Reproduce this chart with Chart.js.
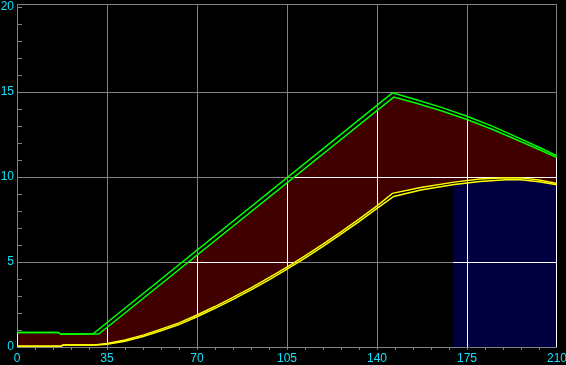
<!DOCTYPE html>
<html>
<head>
<meta charset="utf-8">
<script src="https://cdn.jsdelivr.net/npm/chart.js@4.4.1/dist/chart.umd.min.js"></script>
<style>
  html, body { margin: 0; padding: 0; background: #000; }
  canvas { display: block; }
</style>
</head>
<body>
<canvas id="scopeChart" width="566" height="365"></canvas>
<script>
// axis ticks
const xTicks = [0, 35, 70, 105, 140, 175, 210];
const yTicks = [0, 5, 10, 15, 20];

// green envelope (two traces)
const greenUpperX = [0, 16, 17, 29.5, 146, 155, 165, 175, 185, 195, 203, 210];
const greenUpperY = [0.86, 0.86, 0.76, 0.76, 14.95, 14.56, 14.1, 13.58, 12.98, 12.3, 11.75, 11.25];
const greenLowerX = [0, 16, 17, 31.8, 146.5, 155, 165, 175, 185, 195, 203, 210];
const greenLowerY = [0.86, 0.86, 0.76, 0.76, 14.7, 14.35, 13.9, 13.38, 12.8, 12.15, 11.62, 11.15];

// yellow envelope (two traces)
const yellowUpperX = [0, 17, 18, 30, 35, 42, 49, 56, 63, 70, 77, 84, 91, 98, 105, 112, 119, 126, 133, 140, 146, 157, 170, 180, 190, 196, 203, 210];
const yellowUpperY = [0.05, 0.05, 0.12, 0.12, 0.2, 0.41, 0.7, 1.05, 1.42, 1.88, 2.38, 2.92, 3.48, 4.08, 4.7, 5.36, 6.05, 6.78, 7.52, 8.3, 9.04, 9.38, 9.7, 9.88, 9.96, 9.95, 9.82, 9.62];
const yellowLowerX = [0, 17, 18, 31, 35, 42, 49, 56, 63, 70, 77, 84, 91, 98, 105, 112, 119, 126, 133, 140, 146.5, 157, 170, 180, 190, 196, 203, 210];
const yellowLowerY = [0.05, 0.05, 0.12, 0.12, 0.16, 0.34, 0.62, 0.96, 1.32, 1.78, 2.27, 2.8, 3.36, 3.95, 4.58, 5.23, 5.92, 6.64, 7.38, 8.15, 8.86, 9.24, 9.56, 9.74, 9.84, 9.84, 9.72, 9.55];

// navy block under the yellow trace
const navyX = [169.6, 180, 190, 196, 203, 210];
const navyY = [9.55, 9.74, 9.84, 9.84, 9.72, 9.55];

const toPoints = (xs, ys) => xs.map((x, i) => ({ x: x, y: ys[i] }));

const labelFont = { family: "'Liberation Sans Narrow', 'Liberation Sans', sans-serif", size: 12 };
const labelColor = '#10e4ff';

// grid: white where something is already painted, gray over the black background
const scopeGrid = {
    id: 'scopeGrid',
    beforeDatasetsDraw(chart) {
        const { ctx, chartArea: a, scales: { x, y } } = chart;
        const drawLines = function (color) {
            ctx.strokeStyle = color;
            ctx.lineWidth = 1;
            ctx.beginPath();
            xTicks.forEach(v => {
                const px = Math.min(Math.round(x.getPixelForValue(v)), Math.round(a.right) - 1) + 0.5;
                ctx.moveTo(px, a.top);
                ctx.lineTo(px, a.bottom);
            });
            [5, 10, 15].forEach(v => {
                const py = Math.round(y.getPixelForValue(v)) + 0.5;
                ctx.moveTo(a.left, py);
                ctx.lineTo(a.right, py);
            });
            ctx.stroke();
        };
        ctx.save();
        ctx.beginPath();
        ctx.rect(a.left, a.top, a.right - a.left, a.bottom - a.top);
        ctx.clip();
        ctx.globalCompositeOperation = 'source-atop';
        drawLines('#ffffff');
        ctx.globalCompositeOperation = 'destination-over';
        drawLines('#808080');
        ctx.restore();
    },
    afterDatasetsDraw(chart) {
        const { ctx, chartArea: a, scales: { x, y } } = chart;
        ctx.save();
        ctx.strokeStyle = '#808080';
        ctx.lineWidth = 1;
        ctx.beginPath();
        // top and bottom frame
        ctx.moveTo(a.left, Math.round(a.top) + 0.5);
        ctx.lineTo(a.right, Math.round(a.top) + 0.5);
        ctx.moveTo(a.left, Math.round(a.bottom) + 0.5);
        ctx.lineTo(a.right, Math.round(a.bottom) + 0.5);
        // small ticks on the y axis
        for (let v = 1; v <= 20; v++) {
            const py = Math.round(y.getPixelForValue(v)) + 0.5;
            ctx.moveTo(a.left, py);
            ctx.lineTo(a.left + 5, py);
        }
        // small ticks under the x axis
        for (let v = 7; v < 210; v += 7) {
            const px = Math.round(x.getPixelForValue(v)) + 0.5;
            ctx.moveTo(px, a.bottom);
            ctx.lineTo(px, a.bottom + 3);
        }
        ctx.stroke();
        ctx.restore();
    }
};

new Chart(document.getElementById('scopeChart'), {
    type: 'line',
    data: {
        datasets: [
            {
                data: toPoints(greenUpperX, greenUpperY),
                borderColor: '#00ff00',
                borderWidth: 1.5,
                fill: false
            },
            {
                data: toPoints(greenLowerX, greenLowerY),
                borderColor: '#00ff00',
                borderWidth: 1.5,
                backgroundColor: '#400000',
                fill: 2
            },
            {
                data: toPoints(yellowUpperX, yellowUpperY),
                borderColor: '#ffff00',
                borderWidth: 1.5,
                fill: false
            },
            {
                data: toPoints(yellowLowerX, yellowLowerY),
                borderColor: '#ffff00',
                borderWidth: 1.5,
                fill: false
            },
            {
                data: toPoints(navyX, navyY),
                borderColor: 'rgba(0,0,0,0)',
                borderWidth: 0,
                backgroundColor: '#000040',
                fill: 'origin'
            }
        ]
    },
    options: {
        responsive: false,
        animation: false,
        layout: { padding: { top: 4, right: 9, left: 0, bottom: 0 } },
        elements: { point: { radius: 0 }, line: { tension: 0 } },
        plugins: {
            legend: { display: false },
            tooltip: { enabled: false },
            filler: { drawTime: 'beforeDatasetsDraw' }
        },
        scales: {
            x: {
                type: 'linear',
                min: 0,
                max: 210,
                grid: { display: false, drawTicks: false },
                border: { display: false },
                ticks: { color: labelColor, font: labelFont, padding: 4, maxRotation: 0, autoSkip: false },
                afterBuildTicks: function (scale) {
                    scale.ticks = xTicks.map(v => ({ value: v }));
                },
                afterFit: function (scale) {
                    scale.height = 18;
                    scale.paddingLeft = 0;
                    scale.paddingRight = 0;
                }
            },
            y: {
                min: 0,
                max: 20.18,
                grid: { display: false, drawTicks: false },
                border: { display: false },
                ticks: { color: labelColor, font: labelFont, padding: 3 },
                afterBuildTicks: function (scale) {
                    scale.ticks = yTicks.map(v => ({ value: v }));
                },
                afterFit: function (scale) {
                    scale.width = 17;
                    scale.paddingTop = 0;
                    scale.paddingBottom = 0;
                }
            }
        }
    },
    plugins: [scopeGrid]
});
</script>
</body>
</html>
